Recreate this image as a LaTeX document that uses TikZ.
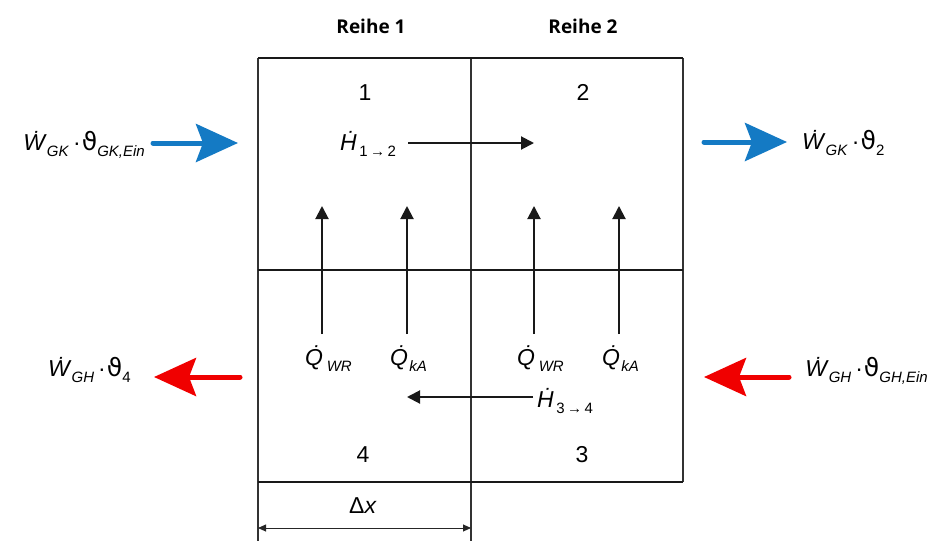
\documentclass[tikz,border=0pt]{standalone}
\usepackage{fontspec}
\setmainfont{Liberation Sans}
\newfontfamily\symfont{DejaVu Sans}
\newfontfamily\headfont{Open Sans}
\usetikzlibrary{arrows.meta}
\newcommand{\sbs}[1]{\raisebox{-0.3em}{\fontsize{15}{15}\selectfont #1}}
\newcommand{\thet}{{\symfont\fontsize{25}{25}\selectfont ϑ}}
\newcommand{\dotW}{\textit{\.{W}}}
\newcommand{\dotQ}{\textit{\.{Q}}}
\newcommand{\dotH}{\textit{\.{H}}}
\newcommand{\gapdot}{\hspace{4pt}·\hspace{1pt}}
\definecolor{flowblue}{RGB}{20,122,196}
\definecolor{flowred}{RGB}{240,0,0}
\begin{document}
\begin{tikzpicture}[x=1pt,y=-1pt,
  font=\fontsize{23}{26}\selectfont,
  txt/.style={inner sep=0pt,anchor=base west},
  etxt/.style={inner sep=0pt,anchor=base east},
  ctxt/.style={inner sep=0pt,anchor=base},
  heavy/.style={line width=2.5pt,black!90},
  thin/.style={line width=1.3pt,black!80},
  flowarrow/.style={line width=2pt,black!90,-{Triangle[length=13pt,width=13pt]}},
  dimarrow/.style={line width=0.9pt,black!85,{Triangle[length=8pt,width=7pt]}-{Triangle[length=8pt,width=7pt]}},
  bigarrow/.style={line width=5pt,line cap=round,-{Stealth[length=42pt,width=38pt,inset=7pt]}}
]
\useasboundingbox (0,0) rectangle (933,541);
% box
\coordinate (TL) at (258,58);
\coordinate (TR) at (683,58);
\coordinate (BL) at (258,482);
\coordinate (BR) at (683,482);
\coordinate (ML) at (258,270);
\coordinate (MR) at (683,270);
\coordinate (TM) at (471,58);
\coordinate (BMext) at (471,541);
\coordinate (BLext) at (258,541);
\draw[thin] (TL) -- (BL);
\draw[thin] (TR) -- (BR);
\draw[thin] (TM) -- (BMext);
\draw[thin] (BL) -- (BLext);
\draw[heavy] (TL) -- (TR);
\draw[heavy] (BL) -- (BR);
\draw[heavy] (ML) -- (MR);
% headings
\node[ctxt,font=\headfont\bfseries\fontsize{19}{22}\selectfont] (r1) at (371,33) {Reihe 1};
\node[ctxt,font=\headfont\bfseries\fontsize{19}{22}\selectfont] (r2) at (583,33) {Reihe 2};
% cell numbers
\node[ctxt] (n1) at (365,100) {1};
\node[ctxt] (n2) at (583,100) {2};
\node[ctxt] (n4) at (363,462) {4};
\node[ctxt] (n3) at (582,462) {3};
% enthalpy flows
\node[txt] (h12) at (340,150) {\dotH\sbs{\,1\,→\,2}};
\coordinate (h12s) at (408,143);
\coordinate (h12e) at (534,143);
\draw[flowarrow] (h12s) -- (h12e);
\node[txt] (h34) at (537,407) {\dotH\sbs{\,3\,→\,4}};
\coordinate (h34s) at (533,397);
\coordinate (h34e) at (407,397);
\draw[flowarrow] (h34s) -- (h34e);
% heat flows
\foreach \x/\n in {322/a,407/b,534/c,619/d}{
  \coordinate (q\n s) at (\x,334);
  \coordinate (q\n e) at (\x,206);
  \draw[flowarrow] (q\n s) -- (q\n e);
}
\node[txt] (qwr1) at (305,365) {\dotQ\sbs{\,\textit{WR}}};
\node[txt] (qka1) at (390,365) {\dotQ\sbs{\textit{kA}}};
\node[txt] (qwr2) at (517,365) {\dotQ\sbs{\,\textit{WR}}};
\node[txt] (qka2) at (602,365) {\dotQ\sbs{\textit{kA}}};
% dimension
\node[ctxt] (dx) at (363,513) {Δ\textit{x}};
\coordinate (dxl) at (258,528);
\coordinate (dxr) at (471,528);
\draw[dimarrow] (dxl) -- (dxr);
% big arrows
\coordinate (b1s) at (153,143);
\coordinate (b1e) at (238,143);
\coordinate (b2s) at (704,142);
\coordinate (b2e) at (787,142);
\coordinate (r1s) at (240,377);
\coordinate (r1e) at (154,377);
\coordinate (r2s) at (789,377);
\coordinate (r2e) at (704,377);
\draw[bigarrow,flowblue] (b1s) -- (b1e);
\draw[bigarrow,flowblue] (b2s) -- (b2e);
\draw[bigarrow,flowred] (r1s) -- (r1e);
\draw[bigarrow,flowred] (r2s) -- (r2e);
\node[etxt] (lgk) at (145,150) {\dotW\sbs{\textit{GK}}\gapdot\thet\sbs{\textit{GK,Ein}}};
\node[txt] (rgk) at (802,149) {\dotW\sbs{\textit{GK}}\gapdot\thet\sbs{2}};
\node[txt] (lgh) at (48,376) {\dotW\sbs{\textit{GH}}\gapdot\thet\sbs{4}};
\node[etxt] (rgh) at (928,376) {\dotW\sbs{\textit{GH}}\gapdot\thet\sbs{\textit{GH,Ein}}};
\end{tikzpicture}
\end{document}
